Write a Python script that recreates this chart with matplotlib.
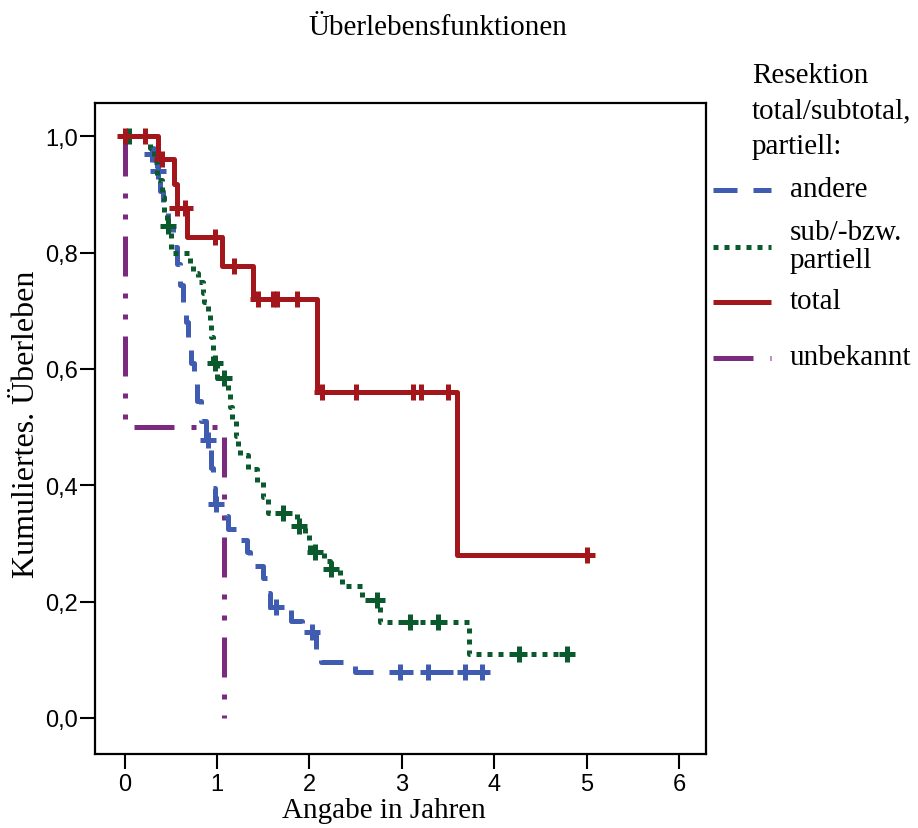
import numpy as np
import matplotlib
matplotlib.use("Agg")
import matplotlib.pyplot as plt
from matplotlib.lines import Line2D

# Kaplan-Meier steps: event times (years) and survival after each event
andere_t = [0.30, 0.35, 0.38, 0.42, 0.47, 0.52, 0.57, 0.60, 0.63, 0.66, 0.69, 0.72, 0.75,
            0.78, 0.83, 0.88, 0.94, 0.96, 0.98, 1.10, 1.12, 1.21, 1.32, 1.36, 1.50, 1.54,
            1.57, 1.80, 1.92, 2.07, 2.12, 2.49]
andere_s = [0.97, 0.94, 0.905, 0.875, 0.845, 0.81, 0.78, 0.745, 0.715, 0.68, 0.645, 0.61, 0.575,
            0.545, 0.51, 0.478, 0.43, 0.395, 0.368, 0.347, 0.325, 0.306, 0.285, 0.262, 0.24, 0.215,
            0.19, 0.167, 0.148, 0.118, 0.096, 0.079]
andere_cens = [0.30, 0.33, 0.36, 0.90, 0.99, 1.64, 2.03, 2.98, 3.28, 3.68, 3.87]
andere_end = 3.90

sub_t = [0.28, 0.32, 0.35, 0.40, 0.43, 0.46, 0.50, 0.71, 0.74, 0.79, 0.85, 0.86, 0.90, 0.92,
         0.93, 0.96, 1.00, 1.12, 1.14, 1.16, 1.20, 1.23, 1.25, 1.34, 1.43, 1.50, 1.55, 1.86,
         1.88, 1.95, 1.99, 2.01, 2.16, 2.22, 2.33, 2.35, 2.57, 2.76, 3.73]
sub_s = [0.98, 0.955, 0.925, 0.895, 0.87, 0.845, 0.80, 0.78, 0.765, 0.75, 0.73, 0.715, 0.70, 0.675,
         0.655, 0.61, 0.585, 0.562, 0.535, 0.512, 0.485, 0.467, 0.452, 0.428, 0.405, 0.38, 0.352, 0.342,
         0.33, 0.318, 0.30, 0.285, 0.27, 0.256, 0.242, 0.227, 0.203, 0.165, 0.11]
sub_cens = [0.05, 0.47, 0.975, 1.08, 1.71, 1.89, 2.06, 2.23, 2.73, 3.09, 3.39, 4.27, 4.79]
sub_end = 4.82

total_t = [0.36, 0.53, 0.565, 0.67, 1.05, 1.39, 2.08, 3.60]
total_s = [0.96, 0.918, 0.876, 0.827, 0.777, 0.72, 0.56, 0.28]
total_cens = [0.0, 0.22, 0.41, 0.57, 0.65, 0.975, 1.18, 1.44, 1.61, 1.65, 1.86, 2.14, 2.50,
              3.12, 3.21, 3.50, 5.0]
total_end = 5.03

unbek_t = [0.0, 1.08]
unbek_s = [0.5, 0.0]
unbek_cens = []
unbek_end = 1.08

x_ticks = [0, 1, 2, 3, 4, 5, 6]
y_ticks = [0.0, 0.2, 0.4, 0.6, 0.8, 1.0]
y_tick_labels = ['0,0', '0,2', '0,4', '0,6', '0,8', '1,0']

legend_title = 'Resektion\ntotal/subtotal,\npartiell:'
legend_labels = ['andere', 'sub/-bzw.\npartiell', 'total', 'unbekannt']

blue = '#3F5CB0'
green = '#0B5A2D'
red = '#A3161B'
purple = '#7B2A80'

serif = ['Liberation Serif', 'DejaVu Serif']
sans = ['Liberation Sans', 'DejaVu Sans']

ls_blue = (0, (4.8, 3.2))
ls_green = (0, (1.0, 1.2))
ls_purple = (0, (8, 3.4, 1, 3.2, 1, 3.4))


def km_plot(ax, t, s, cens, end, color, ls, z):
  t = np.asarray(t)
  s = np.asarray(s)
  xs = np.r_[0.0, t, end]
  ys = np.r_[1.0, s, s[-1]]
  ax.step(xs, ys, where='post', color=color, lw=3.6, ls=ls,
          solid_capstyle='butt', dash_capstyle='butt', zorder=z)
  if len(cens):
    c = np.asarray(cens)
    cy = np.r_[1.0, s][np.searchsorted(t, c, side='right')]
    ax.plot(c, cy, '+', color=color, ms=11, mew=3.6, zorder=z, ls='none')


fig = plt.figure(figsize=(9.18, 8.29), dpi=100)
ax = fig.add_axes([95/918, 1-755/829, 611/918, 651/829])

km_plot(ax, unbek_t, unbek_s, unbek_cens, unbek_end, purple, ls_purple, 2)
km_plot(ax, andere_t, andere_s, andere_cens, andere_end, blue, ls_blue, 3)
km_plot(ax, sub_t, sub_s, sub_cens, sub_end, green, ls_green, 4)
km_plot(ax, total_t, total_s, total_cens, total_end, red, '-', 5)

ax.set_xlim(-0.32, 6.29)
ax.set_ylim(-0.062, 1.057)
ax.set_xticks(x_ticks)
ax.set_xticklabels([str(v) for v in x_ticks], fontfamily=sans, fontsize=17)
ax.set_yticks(y_ticks)
ax.set_yticklabels(y_tick_labels, fontfamily=sans, fontsize=17)
ax.tick_params(axis='x', direction='out', length=11, width=1.5, pad=3)
ax.tick_params(axis='y', direction='out', length=11, width=1.5, pad=1)
for sp in ax.spines.values():
  sp.set_linewidth(1.6)

ax.set_xlabel('Angabe in Jahren', fontfamily=serif, fontsize=21, va='center')
ax.xaxis.set_label_coords(384/918, 1-811/829, transform=fig.transFigure)
ax.set_ylabel('Kumuliertes. Überleben', fontfamily=serif, fontsize=23, va='center')
ax.yaxis.set_label_coords(27/918, 1-424/829, transform=fig.transFigure)

fig.text(438/918, 1-28/829, 'Überlebensfunktionen', fontfamily=serif, fontsize=21,
         ha='center', va='center')

# legend, drawn by hand to follow the SPSS layout
fig.text(752/918, 1-63/829, legend_title, fontfamily=serif, fontsize=21,
         ha='left', va='top', linespacing=1.48)
handle_y = [191, 248, 303, 359]
text_y = [190, 247, 302, 358]
colors = [blue, green, red, purple]
styles = [ls_blue, ls_green, '-', ls_purple]
for lab, hy, ty, c, st in zip(legend_labels, handle_y, text_y, colors, styles):
  fig.add_artist(Line2D([713/918, 771/918], [1-hy/829, 1-hy/829], color=c, lw=3.6, ls=st,
                        solid_capstyle='butt', dash_capstyle='butt',
                        transform=fig.transFigure))
  fig.text(790/918, 1-ty/829, lab, fontfamily=serif, fontsize=21, ha='left', va='center',
           linespacing=1.1)

fig.savefig('out.png', dpi=100)
